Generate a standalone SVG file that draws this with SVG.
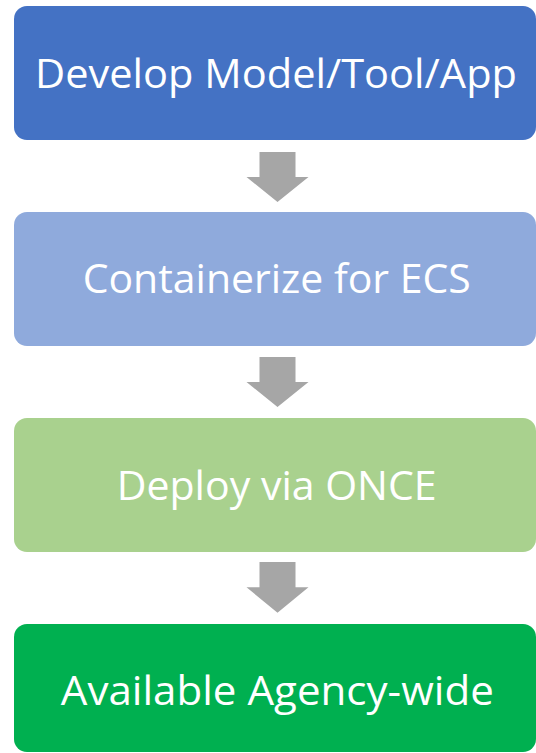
<svg xmlns="http://www.w3.org/2000/svg" width="536" height="753" viewBox="0 0 536 753">
  <style>
    .box { stroke: none; }
    .label { font-family: "Open Sans", "Noto Sans", "Liberation Sans", sans-serif; font-size: 41px; fill: #FFFFFF; text-anchor: middle; }
    .arrow { fill: #A6A6A6; stroke: none; }
  </style>
  <rect width="536" height="753" fill="#FFFFFF"/>

  <g id="develop">
    <rect class="box" x="14" y="6" width="522" height="134" rx="13" fill="#4472C4"/>
    <text class="label" x="276" y="88" textLength="482" lengthAdjust="spacingAndGlyphs">Develop Model/Tool/App</text>
  </g>

  <g id="containerize">
    <rect class="box" x="14" y="212" width="522" height="134" rx="13" fill="#8FAADC"/>
    <text class="label" x="276.7" y="293" textLength="388" lengthAdjust="spacingAndGlyphs">Containerize for ECS</text>
  </g>

  <g id="deploy">
    <rect class="box" x="14" y="418" width="522" height="134" rx="13" fill="#A9D18E"/>
    <text class="label" x="276.7" y="499.5" textLength="320" lengthAdjust="spacingAndGlyphs">Deploy via ONCE</text>
  </g>

  <g id="available">
    <rect class="box" x="14" y="624" width="522" height="128" rx="13" fill="#00B050"/>
    <text class="label" x="277.3" y="705" textLength="433" lengthAdjust="spacingAndGlyphs">Available Agency-wide</text>
  </g>

  <g id="connectors">
    <path class="arrow" d="M259.5 152 H295.5 V177 H308.5 L277.5 202 L246.5 177 H259.5 Z"/>
    <path class="arrow" d="M259.5 357 H295.5 V382 H308.5 L277.5 407 L246.5 382 H259.5 Z"/>
    <path class="arrow" d="M259.5 562 H295.5 V587.3 H308.5 L277.5 612.7 L246.5 587.3 H259.5 Z"/>
  </g>
</svg>
